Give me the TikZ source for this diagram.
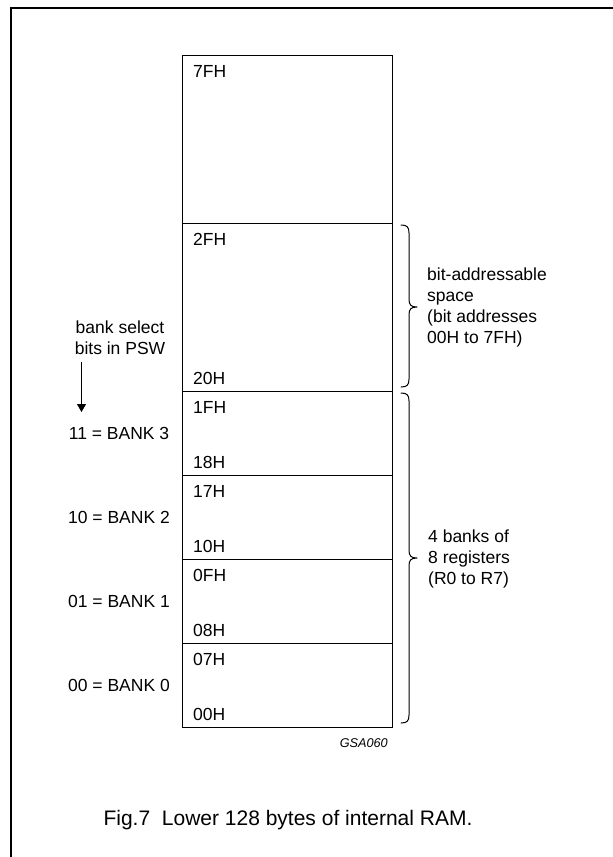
\documentclass[tikz,border=0pt]{standalone}
\usepackage{fontspec}
\setmainfont{Liberation Sans}
\usetikzlibrary{arrows.meta}
\begin{document}
\begin{tikzpicture}[x=1pt,y=-1pt,
  cell/.style={draw, line width=1pt, rectangle, inner sep=0pt, minimum width=210pt},
  lbl/.style={inner sep=0pt, font=\fontsize{17.5}{21}\selectfont},
  brace/.style={line width=1pt, line cap=round, line join=round}]
\useasboundingbox (0,0) rectangle (613,857);
% outer frame (partial)
\draw[line width=2pt] (11.3,857) -- (11.3,8.3) -- (613,8.3);
% memory cells
\node[cell, minimum height=168pt] (c7f) at (287,139) {};
\node[cell, minimum height=168pt] (c2f) at (287,307) {};
\node[cell, minimum height=84pt] (b3) at (287,433) {};
\node[cell, minimum height=84pt] (b2) at (287,517) {};
\node[cell, minimum height=84pt] (b1) at (287,601) {};
\node[cell, minimum height=84pt] (b0) at (287,685) {};
% address labels
\node[lbl, anchor=base west] (a7f) at (193,77) {7FH};
\node[lbl, anchor=base west] (a2f) at (193,245) {2FH};
\node[lbl, anchor=base west] (a20) at (193,384) {20H};
\node[lbl, anchor=base west] (a1f) at (193,413) {1FH};
\node[lbl, anchor=base west] (a18) at (193,468) {18H};
\node[lbl, anchor=base west] (a17) at (193,497) {17H};
\node[lbl, anchor=base west] (a10) at (193,552) {10H};
\node[lbl, anchor=base west] (a0f) at (193,581) {0FH};
\node[lbl, anchor=base west] (a08) at (193,636) {08H};
\node[lbl, anchor=base west] (a07) at (193,665) {07H};
\node[lbl, anchor=base west] (a00) at (193,720) {00H};
% left labels
\node[lbl, anchor=base] (bs1) at (120,333) {bank select};
\node[lbl, anchor=base] (bs2) at (120,354) {bits in PSW};
\coordinate (arrS) at (81.5,362);
\coordinate (arrE) at (81.5,412);
\draw[line width=1pt, -{Triangle[length=8pt,width=9pt]}] (arrS) -- (arrE);
\node[lbl, anchor=base] (k3) at (119,439) {11 = BANK 3};
\node[lbl, anchor=base] (k2) at (119,523) {10 = BANK 2};
\node[lbl, anchor=base] (k1) at (119,607) {01 = BANK 1};
\node[lbl, anchor=base] (k0) at (119,691) {00 = BANK 0};
% braces
\draw[brace] (401,225) .. controls (407,225) and (409,227) .. (409,233) -- (409,299)
  .. controls (409,305) and (411,307) .. (417,307)
  .. controls (411,307) and (409,309) .. (409,315) -- (409,379)
  .. controls (409,385) and (407,387) .. (401,387);
\draw[brace] (401,393) .. controls (407,393) and (409,395) .. (409,401) -- (409,550)
  .. controls (409,556) and (411,558) .. (417,558)
  .. controls (411,558) and (409,560) .. (409,566) -- (409,715)
  .. controls (409,721) and (407,723) .. (401,723);
% right labels
\node[lbl, anchor=base west] (r1) at (427,280) {bit-addressable};
\node[lbl, anchor=base west] (r2) at (427,301) {space};
\node[lbl, anchor=base west] (r3) at (427,322) {(bit addresses};
\node[lbl, anchor=base west] (r4) at (427,343) {00H to 7FH)};
\node[lbl, anchor=base west] (g1) at (428,542) {4 banks of};
\node[lbl, anchor=base west] (g2) at (428,563) {8 registers};
\node[lbl, anchor=base west] (g3) at (428,584) {(R0 to R7)};
% code and caption
\node[inner sep=0pt, anchor=base east, font=\fontsize{12.7}{15}\selectfont\itshape] (code) at (388,747) {GSA060};
\node[inner sep=0pt, anchor=base, font=\fontsize{21}{25}\selectfont] (cap) at (288,825) {Fig.7\ \ Lower 128 bytes of internal RAM.};
\end{tikzpicture}
\end{document}
